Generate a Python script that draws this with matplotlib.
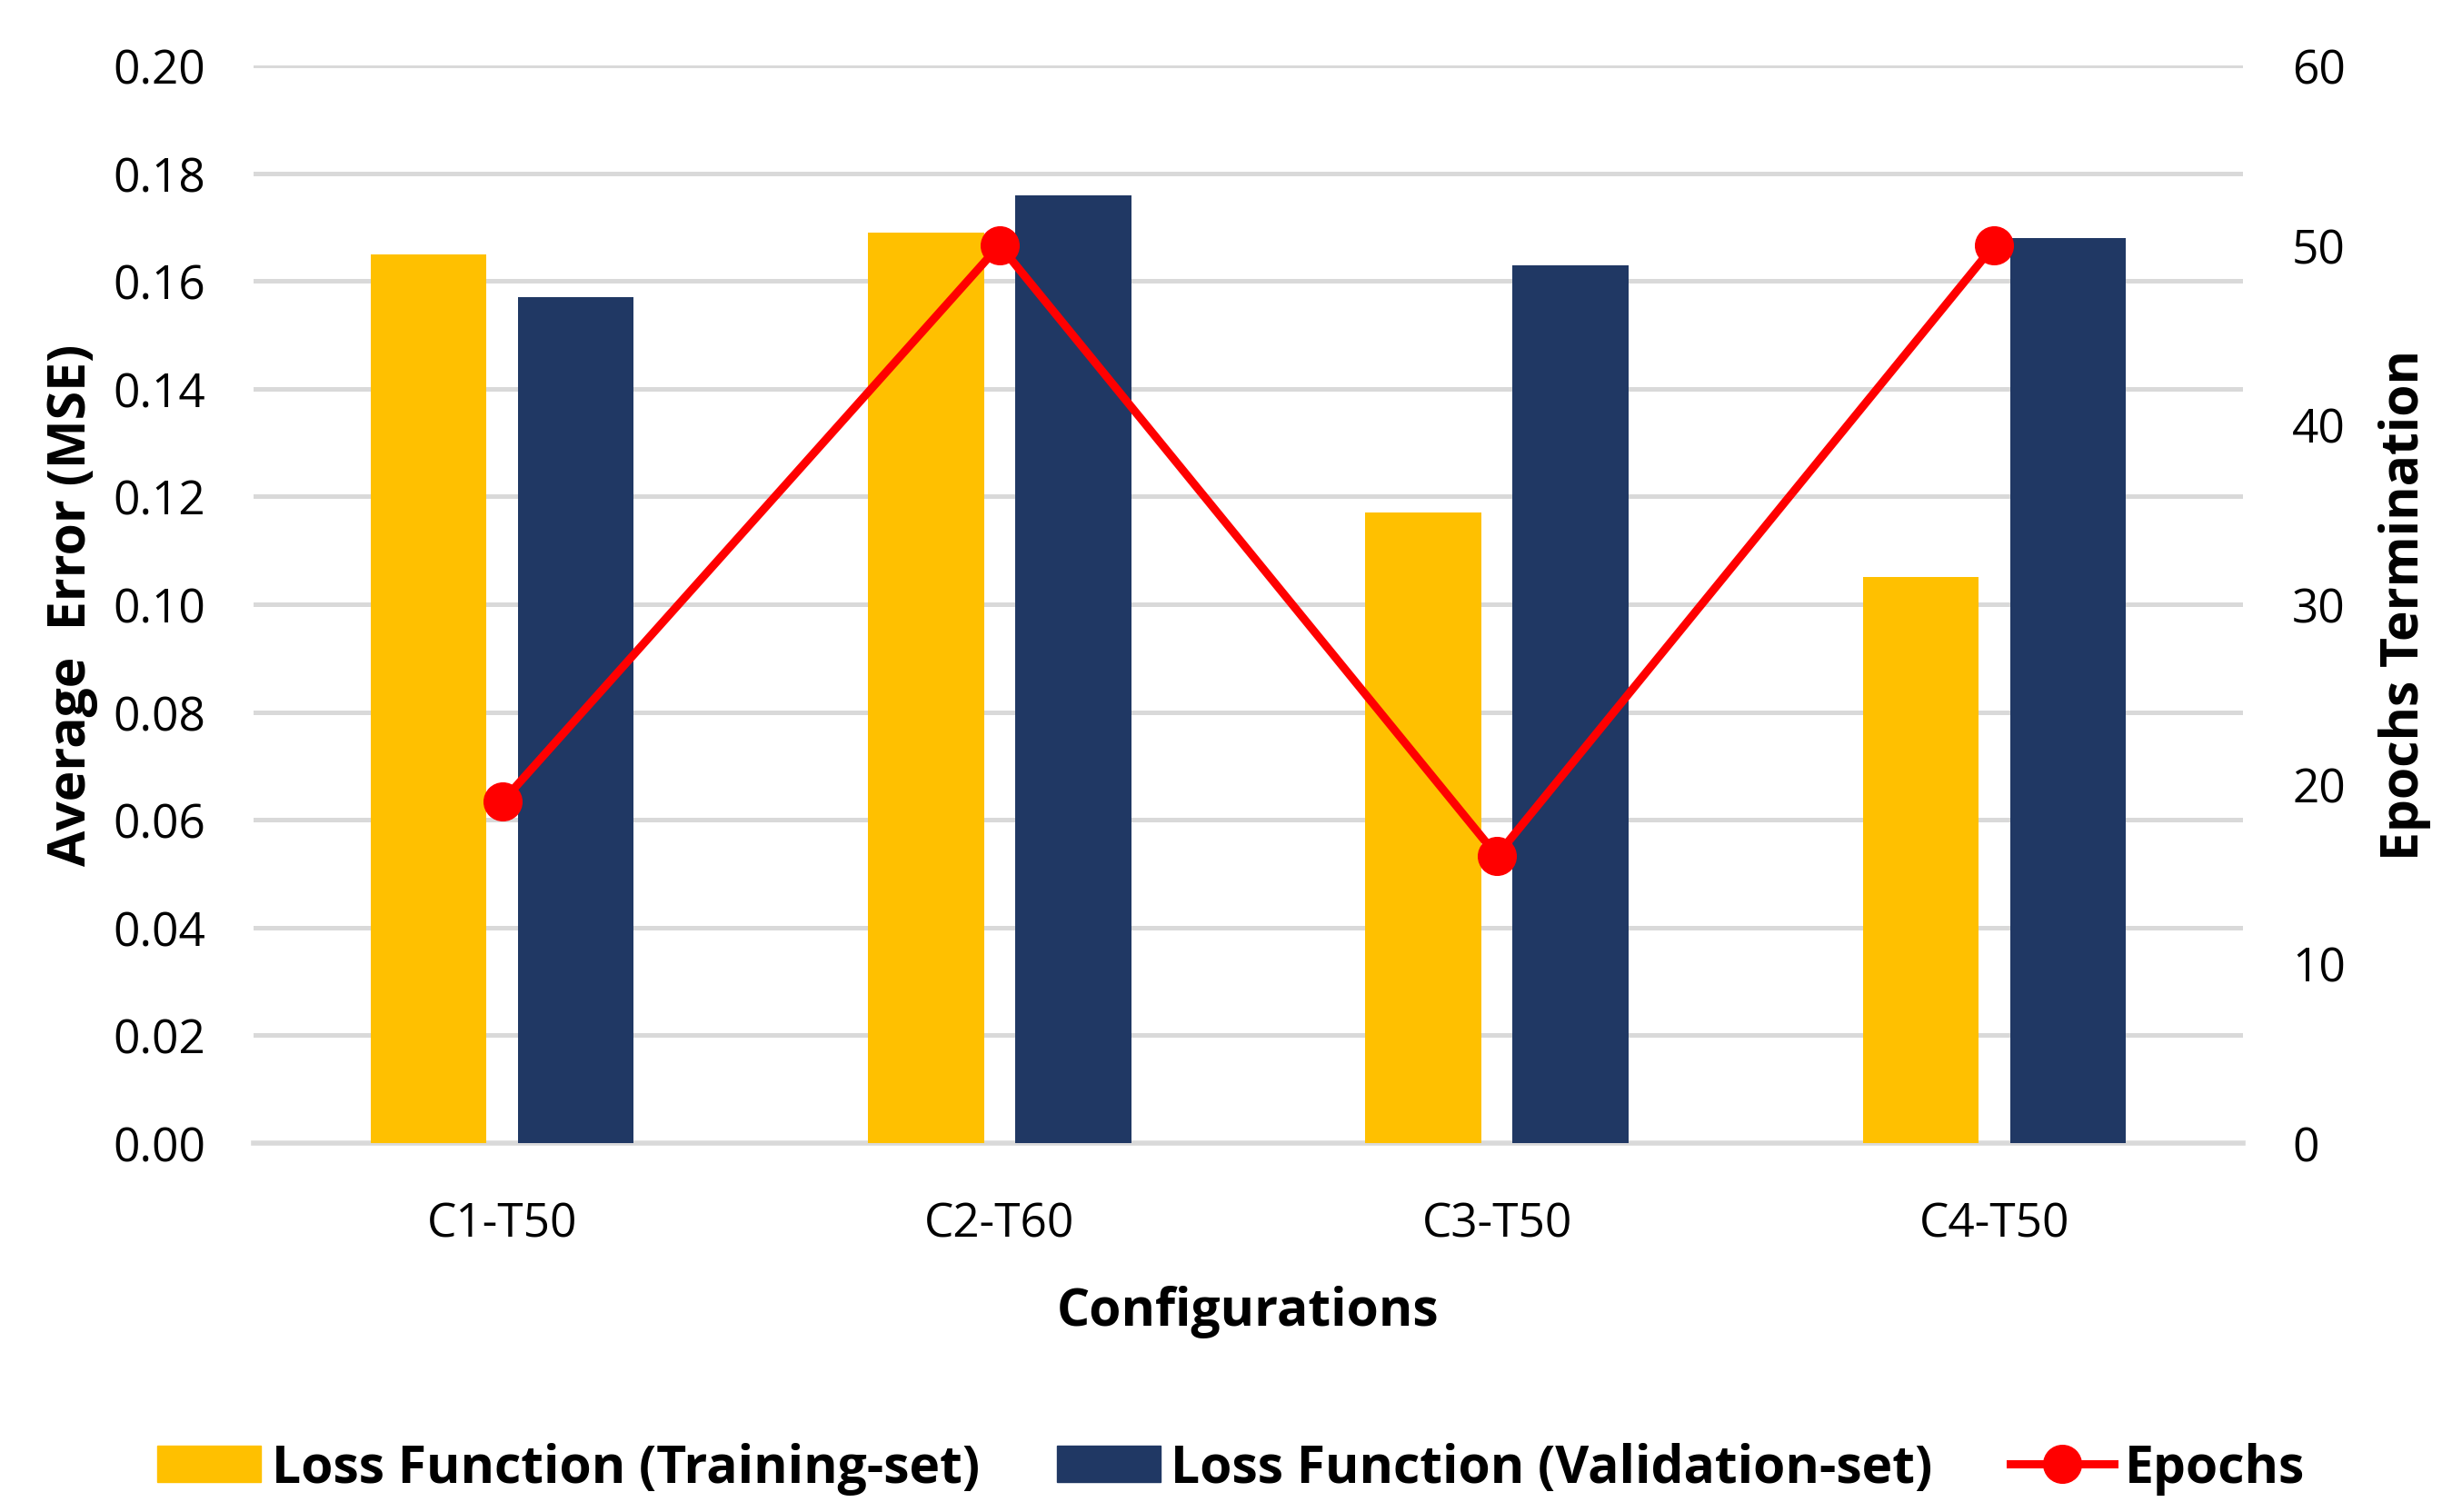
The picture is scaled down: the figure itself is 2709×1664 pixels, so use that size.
import numpy as np
import matplotlib
matplotlib.use('Agg')
from matplotlib import pyplot as plt
from matplotlib.lines import Line2D
from matplotlib.patches import Patch

# dati
configs = ['C1-T50', 'C2-T60', 'C3-T50', 'C4-T50']
loss_train = [0.165, 0.169, 0.117, 0.105]
loss_val = [0.157, 0.176, 0.163, 0.168]
epochs = [19, 50, 16, 50]

y_ticks = [0.00, 0.02, 0.04, 0.06, 0.08, 0.10, 0.12, 0.14, 0.16, 0.18, 0.20]
y2_ticks = [0, 10, 20, 30, 40, 50, 60]

plt.rcParams['font.family'] = ['Open Sans', 'DejaVu Sans']

col_train = '#FFC000'
col_val = '#203864'
col_ep = '#FF0000'
col_grid = '#D9D9D9'

fig = plt.figure(figsize=(27.09, 16.65), dpi=100)
ax = fig.add_axes([0.103, 0.244, 0.808, 0.712])
ax2 = ax.twinx()

x = np.arange(len(configs))
w = 0.233
ax.bar(x - 0.148, loss_train, w, color=col_train, zorder=3)
ax.bar(x + 0.148, loss_val, w, color=col_val, zorder=3)

ax2.plot(x, epochs, color=col_ep, lw=6.5, marker='o', ms=30, zorder=4)

ax.set_xlim(-0.5, 3.5)
ax.set_ylim(0, 0.2)
ax2.set_ylim(0, 60)
ax.set_yticks(y_ticks)
ax.set_yticklabels([f'{v:.2f}' for v in y_ticks])
ax2.set_yticks(y2_ticks)
ax.set_xticks(x)
ax.set_xticklabels(configs)

ax.grid(axis='y', color=col_grid, lw=3.6, zorder=0)
ax.set_axisbelow(True)
for a in (ax, ax2):
    for s in a.spines.values():
        s.set_visible(False)
    a.tick_params(length=0, labelsize=37, colors='#000000')
ax.spines['bottom'].set_visible(True)
ax.spines['bottom'].set_color(col_grid)
ax.spines['bottom'].set_linewidth(4)
ax.tick_params(axis='y', pad=38)
ax.tick_params(axis='x', pad=46)
ax2.tick_params(axis='y', pad=39)

ax.set_xlabel('Configurations', fontsize=41, fontweight='bold', labelpad=30)
ax.set_ylabel('Average  Error (MSE)', fontsize=41, fontweight='bold', labelpad=12)
ax2.set_ylabel('Epochs Termination', fontsize=41, fontweight='bold', labelpad=26)

handles = [Patch(color=col_train, label='Loss Function (Training-set)'),
           Patch(color=col_val, label='Loss Function (Validation-set)'),
           Line2D([], [], color=col_ep, lw=6.5, marker='o', ms=30, label='Epochs')]
fig.legend(handles=handles, loc='center', bbox_to_anchor=(0.5, 0.029), ncol=3,
           frameon=False, prop={'size': 41, 'weight': 'bold'},
           handlelength=2.0, handleheight=0.72, handletextpad=0.2, columnspacing=1.5)

fig.savefig('out.png', dpi=100, facecolor='white')
